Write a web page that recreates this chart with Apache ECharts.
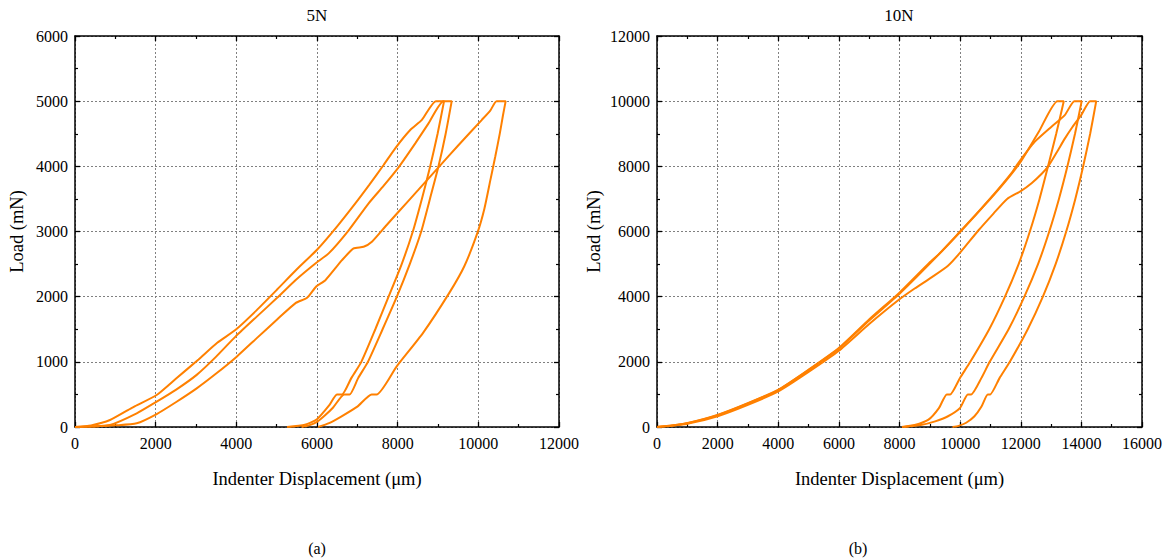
<!DOCTYPE html>
<html><head><meta charset="utf-8">
<script src="https://cdn.jsdelivr.net/npm/echarts@6/dist/echarts.min.js"></script>
<style>html,body{margin:0;padding:0;background:#fff}#c{width:1171px;height:560px}</style>
</head><body><div id="c"></div>
<script>
// ---------- data (displacement μm, load mN) ----------
const xTicks5N = [0, 2000, 4000, 6000, 8000, 10000, 12000];
const yTicks5N = [0, 1000, 2000, 3000, 4000, 5000, 6000];
const xTicks10N = [0, 2000, 4000, 6000, 8000, 10000, 12000, 14000, 16000];
const yTicks10N = [0, 2000, 4000, 6000, 8000, 10000, 12000];

// 5N test, three load-hold-unload cycles
const cycle5N_1 = [[0,0],[400,25],[868,107],[1400,290],[1490,320],[2025,491],[2500,740],[3063,1037],[3527,1292],[3990,1496],[4500,1790],[5011,2109],[5500,2420],[6000,2720],[6500,3080],[6950,3432],[7300,3720],[7651,4020],[7940,4277],[8311,4557],[8600,4712],[8946,5000],[9150,5000],
  [8990,4500],[8807,4000],[8600,3500],[8376,3000],[8100,2500],[7775,2000],[7446,1500],[7099,1000],[6850,750],[6619,500],[6495,500],[6300,330],[6000,119],[5700,35],[5257,0]];
const cycle5N_2 = [[0,0],[400,10],[868,31],[1530,210],[2025,389],[2500,570],[3017,800],[3500,1080],[3990,1394],[4500,1690],[5011,1982],[5465,2253],[5960,2510],[6290,2664],[6790,3022],[7280,3432],[7650,3700],[8022,3985],[8436,4353],[8765,4660],[9136,5000],[9340,5000],
  [9190,4500],[9012,4000],[8800,3500],[8584,3000],[8300,2500],[7980,2000],[7626,1500],[7262,1000],[7020,750],[6807,500],[6676,500],[6400,300],[6200,180],[6000,78],[5800,25],[5620,0]];
const cycle5N_3 = [[0,0],[500,8],[1000,25],[1530,57],[2025,199],[2500,380],[3017,593],[3500,820],[4009,1079],[4500,1360],[5011,1650],[5476,1905],[5754,1982],[5986,2160],[6208,2253],[6620,2560],[6908,2740],[7156,2765],[7361,2842],[7700,3080],[8022,3303],[8500,3630],[9012,3985],[9500,4320],[10082,4710],[10300,4860],[10453,5000],[10678,5000],
  [10610,4780],[10534,4510],[10420,4150],[10302,3800],[10150,3350],[9977,2978],[9652,2467],[9280,2058],[8630,1445],[7981,935],[7479,500],[7355,500],[7000,312],[6600,160],[6300,60],[6030,0]];

// 10N test, three load-hold-unload cycles
const cycle10N_1 = [[0,0],[500,50],[1053,133],[2043,388],[3034,746],[4025,1154],[5015,1767],[6006,2431],[6997,3299],[7988,4116],[8978,5036],[9315,5320],[10000,6000],[10800,6800],[11489,7534],[12000,8145],[12600,9070],[13210,10000],[13420,10000],
  [13170,9000],[12900,8000],[12620,7000],[12300,6000],[11930,5000],[11480,4000],[10960,3000],[10335,2000],[10000,1514],[9670,1000],[9560,1000],[9300,580],[8956,226],[8500,60],[8077,0]];
const cycle10N_2 = [[0,0],[500,45],[1000,115],[2000,365],[3000,725],[4000,1135],[5000,1745],[6000,2405],[7000,3270],[8000,4090],[9000,5015],[10000,5985],[11000,7020],[11700,7800],[11918,8100],[12200,8450],[12466,8757],[13014,9215],[13453,9572],[13770,10000],[14010,10000],
  [13790,9000],[13540,8000],[13260,7000],[12940,6000],[12570,5000],[12120,4000],[11600,3000],[10975,2000],[10700,1500],[10363,1000],[10253,1000],[10000,588],[9600,330],[9177,173],[8700,60],[8150,0]];
const cycle10N_3 = [[0,0],[500,40],[1000,100],[2000,330],[3000,680],[4000,1090],[5000,1690],[6000,2340],[7000,3160],[7988,3912],[8500,4250],[9069,4600],[9600,4950],[10000,5350],[10600,6030],[11100,6550],[11550,7000],[12000,7240],[12357,7483],[12700,7780],[12905,8000],[13200,8450],[13453,8850],[13700,9200],[14000,9580],[14290,10000],[14490,10000],
  [14290,9000],[14060,8000],[13800,7000],[13500,6000],[13150,5000],[12730,4000],[12230,3000],[11640,2000],[11300,1500],[10990,1000],[10913,1000],[10700,620],[10473,330],[10200,130],[9950,35],[9750,0]];

// ---------- chart ----------
const FONT = 'Liberation Serif';
const ORANGE = '#ff8000';
const chart = echarts.init(document.getElementById('c'), null, {renderer: 'svg'});
const plain = v => String(v);

const tickCommon = {
  axisLine:{show:true, onZero:false, lineStyle:{color:'#000', width:1.5}},
  axisTick:{show:true, inside:true, length:5, lineStyle:{color:'#000', width:1.3}},
  minorTick:{show:true, splitNumber:2, length:3, lineStyle:{color:'#000', width:1.2}}
};
function mainX(gi, ticks, name) {
  return Object.assign({type:'value', gridIndex:gi, position:'bottom', min:ticks[0], max:ticks[ticks.length-1], interval:ticks[1]-ticks[0],
    name:name, nameLocation:'middle', nameGap:42, nameMoveOverlap:false, nameTextStyle:{fontFamily:FONT, fontSize:18.5, color:'#000'},
    splitLine:{show:true, lineStyle:{type:[2,2], color:'#808080', width:1}},
    axisLabel:{fontFamily:FONT, fontSize:16, color:'#000', margin:8, formatter:plain}}, tickCommon);
}
function topX(gi, ticks) {
  return Object.assign({type:'value', gridIndex:gi, position:'top', min:ticks[0], max:ticks[ticks.length-1], interval:ticks[1]-ticks[0],
    splitLine:{show:false}, axisLabel:{show:false}}, tickCommon);
}
function mainY(gi, ticks, gap) {
  return Object.assign({type:'value', gridIndex:gi, position:'left', min:ticks[0], max:ticks[ticks.length-1], interval:ticks[1]-ticks[0],
    name:'Load (mN)', nameLocation:'middle', nameGap:gap, nameRotate:90, nameTextStyle:{fontFamily:FONT, fontSize:18.5, color:'#000'},
    splitLine:{show:true, lineStyle:{type:[2,2], color:'#808080', width:1}},
    axisLabel:{fontFamily:FONT, fontSize:16, color:'#000', margin:7, formatter:plain}}, tickCommon);
}
function rightY(gi, ticks) {
  return Object.assign({type:'value', gridIndex:gi, position:'right', min:ticks[0], max:ticks[ticks.length-1], interval:ticks[1]-ticks[0],
    splitLine:{show:false}, axisLabel:{show:false}}, tickCommon);
}
function curve(data, xi, yi) {
  return {type:'line', data:data, xAxisIndex:xi, yAxisIndex:yi, showSymbol:false, symbol:'none', smooth:0.2,
    lineStyle:{color:ORANGE, width:2}, itemStyle:{color:ORANGE}, silent:true, animation:false, z:3};
}
const xName = 'Indenter Displacement (\u03bcm)';
chart.setOption({
  animation:false,
  backgroundColor:'#fff',
  grid:[{left:75, top:36, width:484, height:391}, {left:657, top:36, width:485, height:391}],
  xAxis:[mainX(0, xTicks5N, xName), topX(0, xTicks5N), mainX(1, xTicks10N, xName), topX(1, xTicks10N)],
  yAxis:[mainY(0, yTicks5N, 49), rightY(0, yTicks5N), mainY(1, yTicks10N, 54), rightY(1, yTicks10N)],
  graphic:[
    {type:'text', x:317, y:15, style:{text:'5N', font:'17px Liberation Serif', fill:'#000', textAlign:'center', textVerticalAlign:'middle'}},
    {type:'text', x:899, y:15, style:{text:'10N', font:'17px Liberation Serif', fill:'#000', textAlign:'center', textVerticalAlign:'middle'}},
    {type:'text', x:317, y:548, style:{text:'(a)', font:'16px Liberation Serif', fill:'#000', textAlign:'center', textVerticalAlign:'middle'}},
    {type:'text', x:858, y:548, style:{text:'(b)', font:'16px Liberation Serif', fill:'#000', textAlign:'center', textVerticalAlign:'middle'}}
  ],
  series:[
    curve(cycle5N_1, 0, 0), curve(cycle5N_2, 0, 0), curve(cycle5N_3, 0, 0),
    curve(cycle10N_1, 2, 2), curve(cycle10N_2, 2, 2), curve(cycle10N_3, 2, 2)
  ]
});
</script></body></html>
